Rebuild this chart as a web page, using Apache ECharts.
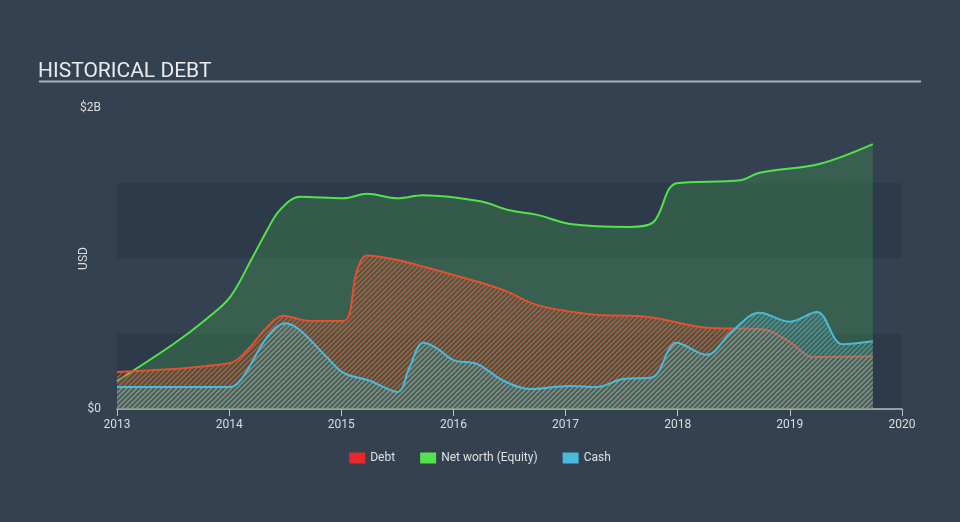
<!DOCTYPE html>
<html>
<head>
<meta charset="utf-8">
<script src="https://cdn.jsdelivr.net/npm/echarts@6/dist/echarts.min.js"></script>
<style>
html,body{margin:0;padding:0;background:#334151;}
#c{width:960px;height:522px;}
</style>
</head>
<body>
<div id="c"></div>
<script>
// [year, value in $B]
const netWorth = [
  [2013.00,0.186],[2013.50,0.43],[2013.80,0.60],[2014.01,0.745],[2014.21,1.01],[2014.34,1.19],
  [2014.45,1.32],[2014.63,1.41],[2015.02,1.40],[2015.23,1.43],[2015.50,1.40],[2015.73,1.42],
  [2016.24,1.38],[2016.50,1.32],[2016.75,1.29],[2017.04,1.23],[2017.57,1.21],[2017.78,1.24],
  [2017.99,1.50],[2018.56,1.52],[2018.73,1.57],[2019.27,1.63],[2019.74,1.76]
];
const debt = [
  [2013.00,0.246],[2014.01,0.306],[2014.16,0.39],[2014.34,0.545],[2014.48,0.62],[2014.72,0.585],
  [2015.02,0.585],[2015.14,0.92],[2015.23,1.02],[2015.50,0.99],[2015.76,0.94],[2016.24,0.84],
  [2016.48,0.78],[2016.75,0.69],[2017.22,0.63],[2017.75,0.61],[2018.26,0.54],[2018.76,0.53],
  [2019.00,0.445],[2019.21,0.345],[2019.74,0.35]
];
const cash = [
  [2013.00,0.146],[2014.01,0.146],[2014.12,0.21],[2014.34,0.48],[2014.50,0.57],[2014.63,0.525],
  [2014.87,0.345],[2015.02,0.24],[2015.26,0.186],[2015.50,0.113],[2015.61,0.28],[2015.73,0.44],
  [2015.85,0.405],[2016.00,0.325],[2016.21,0.30],[2016.44,0.19],[2016.68,0.133],[2017.04,0.153],
  [2017.28,0.146],[2017.51,0.20],[2017.77,0.21],[2017.99,0.44],[2018.26,0.36],[2018.47,0.505],
  [2018.73,0.64],[2019.00,0.58],[2019.24,0.645],[2019.47,0.43],[2019.74,0.45]
];
const yTickLabels = {0:'$0', 2:'$2B'};
const seriesNames = ['Debt','Net worth (Equity)','Cash'];

function stripe(color, bg){
  const s = 5;
  const c = document.createElement('canvas');
  c.width = s; c.height = s;
  const ctx = c.getContext('2d');
  if (bg){ ctx.fillStyle = bg; ctx.fillRect(0,0,s,s); }
  ctx.strokeStyle = color; ctx.lineWidth = 1.6;
  ctx.beginPath();
  ctx.moveTo(-1, s+1); ctx.lineTo(s+1, -1);
  ctx.moveTo(-1, 1); ctx.lineTo(1, -1);
  ctx.moveTo(s-1, s+1); ctx.lineTo(s+1, s-1);
  ctx.stroke();
  return c;
}

const chart = echarts.init(document.getElementById('c'));
chart.setOption({
  backgroundColor:'#334151',
  animation:false,
  title:{
    text:'HISTORICAL DEBT', left:33, top:56,
    textStyle:{color:'#eaeaea', fontFamily:'Roboto', fontWeight:'normal', fontSize:21}
  },
  graphic:[{type:'line', shape:{x1:39,y1:81.5,x2:921,y2:81.5}, style:{stroke:'#a9b0b8', lineWidth:2}}],
  legend:{
    data:seriesNames, bottom:53, left:'center', itemWidth:16, itemHeight:11, itemGap:25,
    icon:'rect',
    textStyle:{color:'#e0e0e0', fontFamily:'Roboto', fontSize:12}
  },
  grid:{left:117, right:58, top:108, bottom:113, containLabel:false},
  xAxis:{
    type:'value', min:2013, max:2020, interval:1,
    axisLine:{show:true, lineStyle:{color:'#b8bfc7', width:1.5}},
    axisTick:{show:true, length:7, lineStyle:{color:'#b8bfc7'}},
    axisLabel:{color:'#dcdcdc', fontFamily:'Roboto', fontSize:12, margin:10, formatter:v=>String(v)},
    splitLine:{show:false}
  },
  yAxis:{
    type:'value', min:0, max:2, interval:0.5,
    name:'USD', nameLocation:'middle', nameGap:27, nameRotate:90, nameMoveOverlap:false,
    nameTextStyle:{color:'#dcdcdc', fontFamily:'Roboto', fontSize:12},
    axisLine:{show:false}, axisTick:{show:false},
    axisLabel:{color:'#dcdcdc', fontFamily:'Roboto', fontSize:12, margin:16,
      formatter:v=> (yTickLabels[v] !== undefined ? yTickLabels[v] : '')},
    splitLine:{show:false},
    splitArea:{show:true, areaStyle:{color:['#2c3a4a','rgba(0,0,0,0)']}}
  },
  series:[
    {
      name:'Net worth (Equity)', type:'line', data:netWorth, smooth:0.35, showSymbol:false, z:2,
      itemStyle:{color:'#52e34a'},
      lineStyle:{color:'#52e34a', width:2},
      areaStyle:{color:'rgba(70,160,80,0.45)', origin:'start'}
    },
    {
      name:'Debt', type:'line', data:debt, smooth:0.35, showSymbol:false, z:3,
      itemStyle:{color:'#e8282c'},
      lineStyle:{color:'#e3512f', width:2},
      areaStyle:{color:{image:stripe('rgba(226,86,52,0.75)'), repeat:'repeat'}, opacity:1}
    },
    {
      name:'Cash', type:'line', data:cash, smooth:0.35, showSymbol:false, z:4,
      itemStyle:{color:'#4ab9dc'},
      lineStyle:{color:'#4ab9dc', width:2},
      areaStyle:{color:{image:stripe('rgba(110,170,175,0.55)','rgba(70,150,160,0.18)'), repeat:'repeat'}, opacity:1}
    }
  ]
});
</script>
</body>
</html>
